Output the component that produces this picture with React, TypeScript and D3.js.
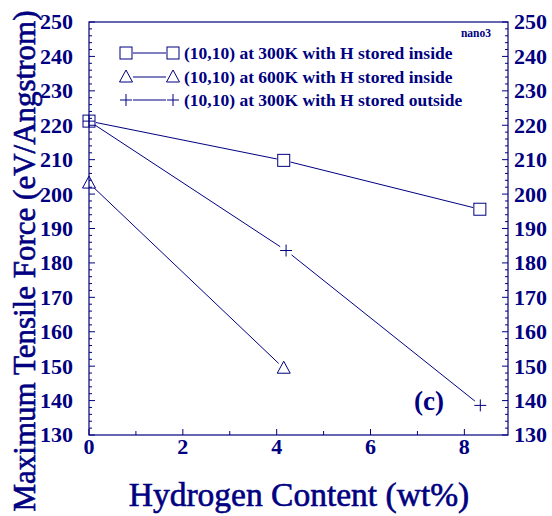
import React from "react";
import * as d3 from "d3";

const W = 552, H = 516;
const M = { left: 89, right: 508, top: 22, bottom: 435 };

const xMajor = [0, 2, 4, 6, 8];
const xMinor = [1, 3, 5, 7];
const yMajor = [130, 140, 150, 160, 170, 180, 190, 200, 210, 220, 230, 240, 250];

const seriesNames = [
  "(10,10) at 300K with H stored inside",
  "(10,10) at 600K with H stored inside",
  "(10,10) at 300K with H stored outside",
];
const seriesMarkers = ["square", "triangle", "plus"];
const sq300X = [0, 4.15, 8.33];
const sq300Y = [221.2, 209.8, 195.6];
const tri600X = [0, 4.15];
const tri600Y = [203.2, 149.4];
const plus300X = [0, 4.2, 8.34];
const plus300Y = [221.2, 183.6, 138.6];

const C = "#000080";
const FONT = "'Liberation Serif', 'Times New Roman', serif";

function Marker({ type, x, y }: { type: string; x: number; y: number }) {
  const s = 6;
  if (type === "square")
    return <rect x={x - s} y={y - s} width={2 * s} height={2 * s} fill="none" stroke={C} strokeWidth={1} />;
  if (type === "triangle")
    return (
      <path
        d={`M${x},${y - 7}L${x + 6.5},${y + 5}L${x - 6.5},${y + 5}Z`}
        fill="none"
        stroke={C}
        strokeWidth={1}
      />
    );
  return <path d={`M${x - 6},${y}H${x + 6}M${x},${y - 6}V${y + 6}`} stroke={C} strokeWidth={1} />;
}

function gapSegments(pts: [number, number][], gap: number) {
  const segs: string[] = [];
  for (let i = 0; i < pts.length - 1; i++) {
    const [x1, y1] = pts[i];
    const [x2, y2] = pts[i + 1];
    const dx = x2 - x1, dy = y2 - y1;
    const L = Math.hypot(dx, dy);
    const ux = dx / L, uy = dy / L;
    segs.push(
      d3.line()([
        [x1 + ux * gap, y1 + uy * gap],
        [x2 - ux * gap, y2 - uy * gap],
      ]) as string
    );
  }
  return segs;
}

export default function App() {
  const x = d3.scaleLinear().domain([0, 8.93]).range([M.left, M.right]);
  const y = d3.scaleLinear().domain([130, 250]).range([M.bottom, M.top]);
  const yMinor = d3.range(130, 251, 2).filter((v) => v % 10 !== 0);

  const series = [
    { xs: sq300X, ys: sq300Y, m: seriesMarkers[0] },
    { xs: tri600X, ys: tri600Y, m: seriesMarkers[1] },
    { xs: plus300X, ys: plus300Y, m: seriesMarkers[2] },
  ];

  const legendRows = [53, 77, 100];

  return (
    <svg
      width={W}
      height={H}
      style={{ position: "absolute", left: 0, top: 0, background: "#fff" }}
      fontFamily={FONT}
    >
      <rect x={M.left} y={M.top} width={M.right - M.left} height={M.bottom - M.top} fill="none" stroke={C} strokeWidth={1.2} />
      {yMajor.map((v) => (
        <g key={"ym" + v}>
          <line x1={M.left} x2={M.left + 6} y1={y(v)} y2={y(v)} stroke={C} />
          <line x1={M.right} x2={M.right - 6} y1={y(v)} y2={y(v)} stroke={C} />
          <text x={M.left - 16} y={y(v)} dy="0.34em" textAnchor="end" fontSize={22} fontWeight="bold" fill={C}>
            {v}
          </text>
          <text x={M.right + 6} y={y(v)} dy="0.34em" textAnchor="start" fontSize={22} fontWeight="bold" fill={C}>
            {v}
          </text>
        </g>
      ))}
      {yMinor.map((v) => (
        <g key={"yn" + v}>
          <line x1={M.left} x2={M.left + 3} y1={y(v)} y2={y(v)} stroke={C} />
          <line x1={M.right} x2={M.right - 3} y1={y(v)} y2={y(v)} stroke={C} />
        </g>
      ))}
      {xMajor.map((v) => (
        <g key={"xm" + v}>
          <line x1={x(v)} x2={x(v)} y1={M.bottom} y2={M.bottom - 6} stroke={C} />
          <text x={x(v)} y={454} textAnchor="middle" fontSize={22} fontWeight="bold" fill={C}>
            {v}
          </text>
        </g>
      ))}
      {xMinor.map((v) => (
        <line key={"xn" + v} x1={x(v)} x2={x(v)} y1={M.bottom} y2={M.bottom - 4} stroke={C} />
      ))}
      {series.map((s, i) => {
        const pts = s.xs.map((xv, j) => [x(xv), y(s.ys[j])] as [number, number]);
        return (
          <g key={"s" + i}>
            {gapSegments(pts, 7).map((d, k) => (
              <path key={k} d={d} stroke={C} strokeWidth={1} fill="none" />
            ))}
            {pts.map((p, k) => (
              <Marker key={k} type={s.m} x={p[0]} y={p[1]} />
            ))}
          </g>
        );
      })}
      {seriesNames.map((name, i) => (
        <g key={"l" + i}>
          <Marker type={seriesMarkers[i]} x={126} y={legendRows[i]} />
          <line x1={133} x2={166} y1={legendRows[i]} y2={legendRows[i]} stroke={C} />
          <Marker type={seriesMarkers[i]} x={173} y={legendRows[i]} />
          <text x={184} y={legendRows[i]} dy="0.35em" fontSize={17.5} fontWeight="bold" fill={C}>
            {name}
          </text>
        </g>
      ))}
      <text x={491} y={37} textAnchor="end" fontSize={11.5} fontWeight="bold" fill={C}>
        nano3
      </text>
      <text x={414} y={410} fontSize={27} fontWeight="bold" fill={C}>
        (c)
      </text>
      <text x={299} y={506} textAnchor="middle" fontSize={33.5} fill={C} stroke={C} strokeWidth={0.6}>
        Hydrogen Content (wt%)
      </text>
      <text
        transform={`translate(35,${(8 + 514) / 2}) rotate(-90)`}
        textAnchor="middle"
        fontSize={31}
        fill={C}
        stroke={C}
        strokeWidth={0.6}
      >
        Maximum Tensile Force (eV/Angstrom)
      </text>
    </svg>
  );
}
